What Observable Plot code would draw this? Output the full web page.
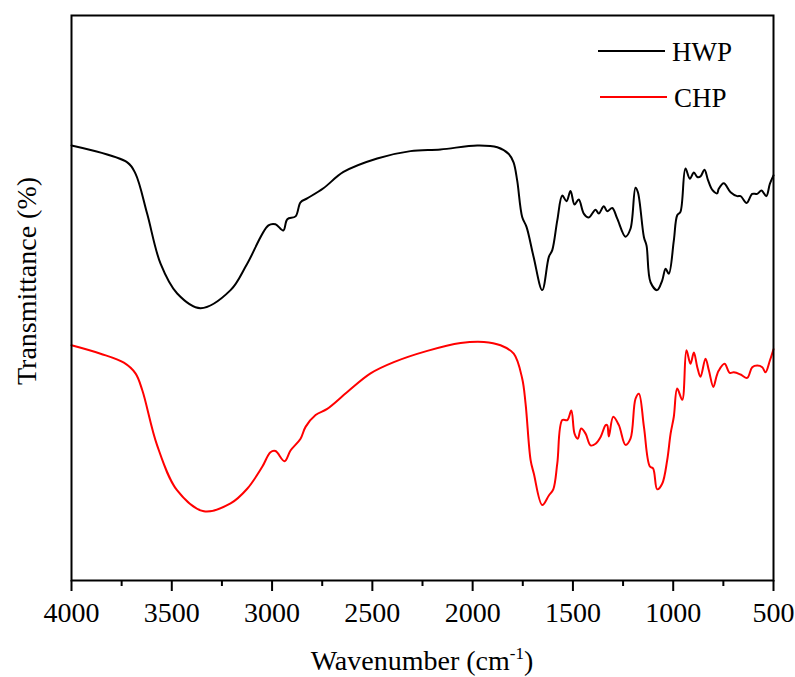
<!DOCTYPE html>
<html><head><meta charset="utf-8">
<script src="https://cdn.jsdelivr.net/npm/d3@7"></script>
<script src="https://cdn.jsdelivr.net/npm/@observablehq/plot@0.6"></script>
<style>body{margin:0;background:#fff} #chart{position:relative;width:795px;height:677px} svg text{font-family:"Liberation Serif","DejaVu Serif",serif !important;}</style>
</head><body><div id="chart"></div>
<script>
const majorTicks = [4000, 3500, 3000, 2500, 2000, 1500, 1000, 500];
const minorTicks = [3750, 3250, 2750, 2250, 1750, 1250, 750];
const seriesNames = ["HWP", "CHP"];
const seriesColors = ["black", "red"];

const hwpWavenumber = [4000,3722,3681,3623,3556,3473,3357,3207,3124,3018,2983,2944,2924,2883,2858,2825,2744,2644,2476,2310,2160,1977,1877,1820,1796,1778,1753,1731,1696,1653,1620,1603,1578,1553,1532,1512,1492,1471,1446,1421,1387,1371,1346,1329,1304,1279,1238,1213,1188,1176,1146,1133,1113,1080,1055,1038,1022,997,980,964,939,917,897,880,864,844,827,805,781,773,748,714,681,664,634,606,581,560,536,518,500];
const hwpT = [76.9,73.9,71.9,64.8,55.9,50.6,48.0,51.2,55.9,62.7,62.9,61.8,63.8,64.3,66.8,67.5,69.3,72.2,74.6,75.9,76.2,76.9,76.6,75.4,73.9,70.7,64.2,62.4,57.1,51.2,57.1,58.3,63.6,68.0,67.0,68.8,66.4,67.3,64.8,64.1,65.5,64.8,66.1,65.2,65.8,63.9,60.7,62.1,69.4,68.6,60.6,59.1,52.6,51.2,52.9,55.0,54.1,60.0,64.5,65.1,72.8,71.0,72.1,71.3,71.4,72.6,70.8,69.0,68.4,69.2,70.2,68.6,67.9,67.9,66.7,68.3,68.3,68.9,67.9,70.1,71.6];

const chpWavenumber = [4000,3855,3739,3681,3647,3573,3473,3340,3207,3124,3049,3008,2983,2938,2908,2858,2833,2783,2725,2625,2509,2393,2226,2060,1944,1861,1795,1753,1736,1711,1695,1653,1620,1598,1578,1553,1528,1508,1492,1476,1459,1437,1412,1387,1362,1337,1329,1321,1299,1271,1238,1213,1188,1171,1146,1117,1100,1080,1055,1030,1013,997,980,955,934,914,897,880,864,839,822,800,784,773,744,718,698,664,631,606,581,556,540,518,500];
const chpT = [41.4,39.9,38.3,36.4,33.4,23.6,15.6,11.9,13.3,15.9,19.8,22.4,22.6,20.8,22.7,24.8,26.9,29.0,30.1,33.1,36.4,38.4,40.4,41.8,42.0,41.4,39.9,35.5,31.0,21.0,18.6,13.0,14.7,15.8,20.4,28.1,28.1,29.8,25.7,24.8,26.6,25.7,23.6,23.9,25.1,27.2,27.2,25.2,28.7,27.2,23.7,24.8,31.9,32.8,26.9,19.9,19.5,15.8,16.8,21.0,25.7,28.7,33.7,31.7,40.5,38.1,40.1,37.5,35.8,39.0,36.9,34.0,35.9,36.9,38.1,36.5,36.6,36.2,35.6,37.5,37.8,37.5,36.6,38.7,40.7];

const hwp = hwpWavenumber.map((w, i) => ({w, t: hwpT[i]}));
const chp = chpWavenumber.map((w, i) => ({w, t: chpT[i]}));

const font = '"Liberation Serif", "DejaVu Serif", serif';
const chart = Plot.plot({
  width: 795, height: 677,
  marginLeft: 71, marginRight: 22, marginTop: 15, marginBottom: 97,
  style: {fontFamily: font, fontSize: "28px", color: "black", background: "white"},
  x: {domain: [4000, 500]},
  y: {domain: [-0.4, 100], axis: null},
  marks: [
    Plot.axisX({ticks: minorTicks, tickSize: 6, tickFormat: () => "", strokeWidth: 2, label: null}),
    Plot.axisX({ticks: majorTicks, tickSize: 11, tickPadding: 11, tickFormat: d => String(d), strokeWidth: 2, label: null, fontSize: 28}),
    Plot.line(hwp, {x: "w", y: "t", stroke: seriesColors[0], strokeWidth: 2, curve: "catmull-rom"}),
    Plot.line(chp, {x: "w", y: "t", stroke: seriesColors[1], strokeWidth: 2, curve: "catmull-rom"}),
    Plot.frame({stroke: "black", strokeWidth: 2})
  ]
});
document.getElementById("chart").appendChild(chart);

const svg = d3.select(chart);
// x label
const xl = svg.append("text").attr("x", 422).attr("y", 670).attr("text-anchor", "middle")
  .style("font-family", font).attr("font-size", 28).attr("fill", "black");
xl.append("tspan").text("Wavenumber (cm");
xl.append("tspan").attr("dy", -11).attr("font-size", 17).text("-1");
xl.append("tspan").attr("dy", 11).text(")");
// y label
svg.append("text").attr("transform", "translate(36,281) rotate(-90)").attr("text-anchor", "middle")
  .style("font-family", font).attr("font-size", 28).attr("fill", "black").text("Transmittance (%)");
// legend
const leg = [{y: 51, x1: 598, x2: 665, tx: 672}, {y: 97, x1: 600, x2: 667, tx: 674}];
leg.forEach((l, i) => {
  svg.append("line").attr("x1", l.x1).attr("x2", l.x2).attr("y1", l.y).attr("y2", l.y)
    .attr("stroke", seriesColors[i]).attr("stroke-width", 2);
  svg.append("text").attr("x", l.tx).attr("y", l.y + 10).attr("text-anchor", "start")
    .style("font-family", font).attr("font-size", 27).attr("fill", "black").text(seriesNames[i]);
});
</script></body></html>
